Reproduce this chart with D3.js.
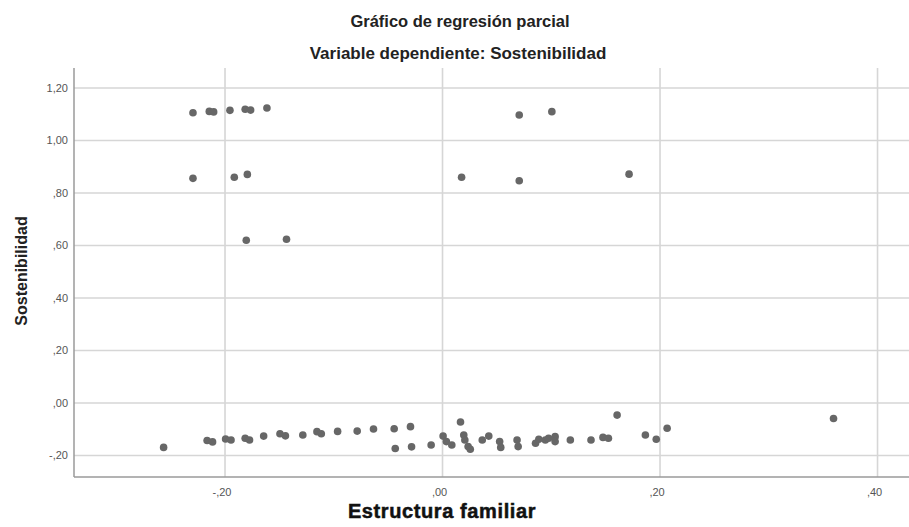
<!DOCTYPE html>
<html>
<head>
<meta charset="utf-8">
<script src="https://cdn.jsdelivr.net/npm/d3@7/dist/d3.min.js"></script>
<style>
  html, body { margin: 0; padding: 0; background: #fff; }
  svg { display: block; }
</style>
</head>
<body>
<svg id="chart" width="909" height="527"></svg>
<script>
// ---- Data ----
const titleText = "Gráfico de regresión parcial";
const subtitleText = "Variable dependiente: Sostenibilidad";
const xAxisTitle = "Estructura familiar";
const yAxisTitle = "Sostenibilidad";

const xTickValues = [-0.2, 0, 0.2, 0.4];
const xTickLabels = ["-,20", ",00", ",20", ",40"];
const yTickValues = [-0.2, 0, 0.2, 0.4, 0.6, 0.8, 1.0, 1.2];
const yTickLabels = ["-,20", ",00", ",20", ",40", ",60", ",80", "1,00", "1,20"];

// Estructura familiar (partial residuals)
const xValues = [
  -0.229, -0.214, -0.210, -0.195, -0.181, -0.176, -0.161, -0.229, -0.191, -0.179, -0.180, -0.143,
  0.071, 0.101, 0.018, 0.071, 0.172,
  -0.256, -0.216, -0.211, -0.199, -0.194, -0.181, -0.177, -0.164, -0.149, -0.144, -0.128, -0.115,
  -0.111, -0.096, -0.078, -0.063, -0.044, -0.029, -0.043, -0.028, -0.010, 0.001, 0.004, 0.009,
  0.017, 0.020, 0.021, 0.024, 0.026, 0.037, 0.043, 0.053, 0.054, 0.069, 0.070, 0.086, 0.089,
  0.095, 0.098, 0.104, 0.104, 0.118, 0.137, 0.148, 0.153, 0.161, 0.187, 0.197, 0.207, 0.360
];
// Sostenibilidad (partial residuals)
const yValues = [
  1.104, 1.109, 1.107, 1.113, 1.117, 1.114, 1.122, 0.854, 0.858, 0.869, 0.618, 0.622,
  1.095, 1.108, 0.858, 0.845, 0.870,
  -0.171, -0.145, -0.150, -0.139, -0.143, -0.136, -0.143, -0.128, -0.119, -0.127, -0.124, -0.111,
  -0.119, -0.110, -0.109, -0.101, -0.100, -0.092, -0.175, -0.169, -0.162, -0.128, -0.149, -0.162,
  -0.074, -0.124, -0.143, -0.168, -0.178, -0.143, -0.128, -0.149, -0.171, -0.143, -0.168, -0.155,
  -0.140, -0.143, -0.136, -0.130, -0.149, -0.143, -0.143, -0.133, -0.136, -0.048, -0.124, -0.140,
  -0.098, -0.061
];

// ---- Layout ----
const W = 909, H = 527;
const plot = { left: 74, right: 909, top: 68, bottom: 477 };
const xDomain = [-0.3384, 0.4294];
const yDomain = [-0.2838, 1.2743];

const svg = d3.select("#chart");
svg.append("rect").attr("width", W).attr("height", H).attr("fill", "#fff");

const x = d3.scaleLinear().domain(xDomain).range([plot.left, plot.right]);
const y = d3.scaleLinear().domain(yDomain).range([plot.bottom, plot.top]);

const font = "'Liberation Sans', Arial, sans-serif";

// Gridlines via axes
const xGrid = d3.axisBottom(x).tickValues(xTickValues)
  .tickSize(-(plot.bottom - plot.top)).tickFormat("");
svg.append("g").attr("transform", `translate(0,${plot.bottom})`).call(xGrid)
  .call(g => g.select(".domain").remove())
  .call(g => g.selectAll(".tick line").attr("stroke", "#d6d6d6").attr("stroke-width", 1.6));

const yGrid = d3.axisLeft(y).tickValues(yTickValues)
  .tickSize(-(plot.right - plot.left)).tickFormat("");
svg.append("g").attr("transform", `translate(${plot.left},0)`).call(yGrid)
  .call(g => g.select(".domain").remove())
  .call(g => g.selectAll(".tick line").attr("stroke", "#d6d6d6").attr("stroke-width", 1.6));

// Axes with labels
const xAxis = d3.axisBottom(x).tickValues(xTickValues).tickSize(0).tickPadding(11)
  .tickFormat((d, i) => xTickLabels[i]);
svg.append("g").attr("transform", `translate(0,${plot.bottom})`).call(xAxis)
  .call(g => g.select(".domain").remove())
  .call(g => g.selectAll("text").attr("font-family", font).attr("font-size", 11)
    .attr("fill", "#555").attr("dx", -3));

const yAxis = d3.axisLeft(y).tickValues(yTickValues).tickSize(0).tickPadding(6)
  .tickFormat((d, i) => yTickLabels[i]);
svg.append("g").attr("transform", `translate(${plot.left},0)`).call(yAxis)
  .call(g => g.select(".domain").remove())
  .call(g => g.selectAll("text").attr("font-family", font).attr("font-size", 11).attr("fill", "#555"));

// Axis lines
svg.append("line").attr("x1", plot.left).attr("x2", plot.left)
  .attr("y1", plot.top).attr("y2", plot.bottom)
  .attr("stroke", "#9a9a9a").attr("stroke-width", 1.5);
svg.append("line").attr("x1", plot.left).attr("x2", plot.right)
  .attr("y1", plot.bottom).attr("y2", plot.bottom)
  .attr("stroke", "#9a9a9a").attr("stroke-width", 1.5);

// Points
const pts = xValues.map((v, i) => ({ x: v, y: yValues[i] }));
svg.append("g").selectAll("circle").data(pts).join("circle")
  .attr("cx", d => x(d.x)).attr("cy", d => y(d.y)).attr("r", 3.8)
  .attr("fill", "#676767");

// Titles
svg.append("text").attr("x", 460).attr("y", 27).attr("text-anchor", "middle")
  .attr("font-family", font).attr("font-size", 16.5).attr("font-weight", "bold")
  .attr("fill", "#222").text(titleText);
svg.append("text").attr("x", 458).attr("y", 59).attr("text-anchor", "middle")
  .attr("font-family", font).attr("font-size", 17).attr("font-weight", "bold")
  .attr("fill", "#222").text(subtitleText);

svg.append("text").attr("x", 442).attr("y", 518).attr("text-anchor", "middle")
  .attr("font-family", font).attr("font-size", 20).attr("font-weight", "bold")
  .attr("letter-spacing", 0.6).attr("stroke", "#111").attr("stroke-width", 0.5)
  .attr("fill", "#111").text(xAxisTitle);

svg.append("text").attr("transform", "translate(27,271) rotate(-90)")
  .attr("text-anchor", "middle")
  .attr("font-family", font).attr("font-size", 16).attr("font-weight", "bold")
  .attr("fill", "#222").text(yAxisTitle);
</script>
</body>
</html>
